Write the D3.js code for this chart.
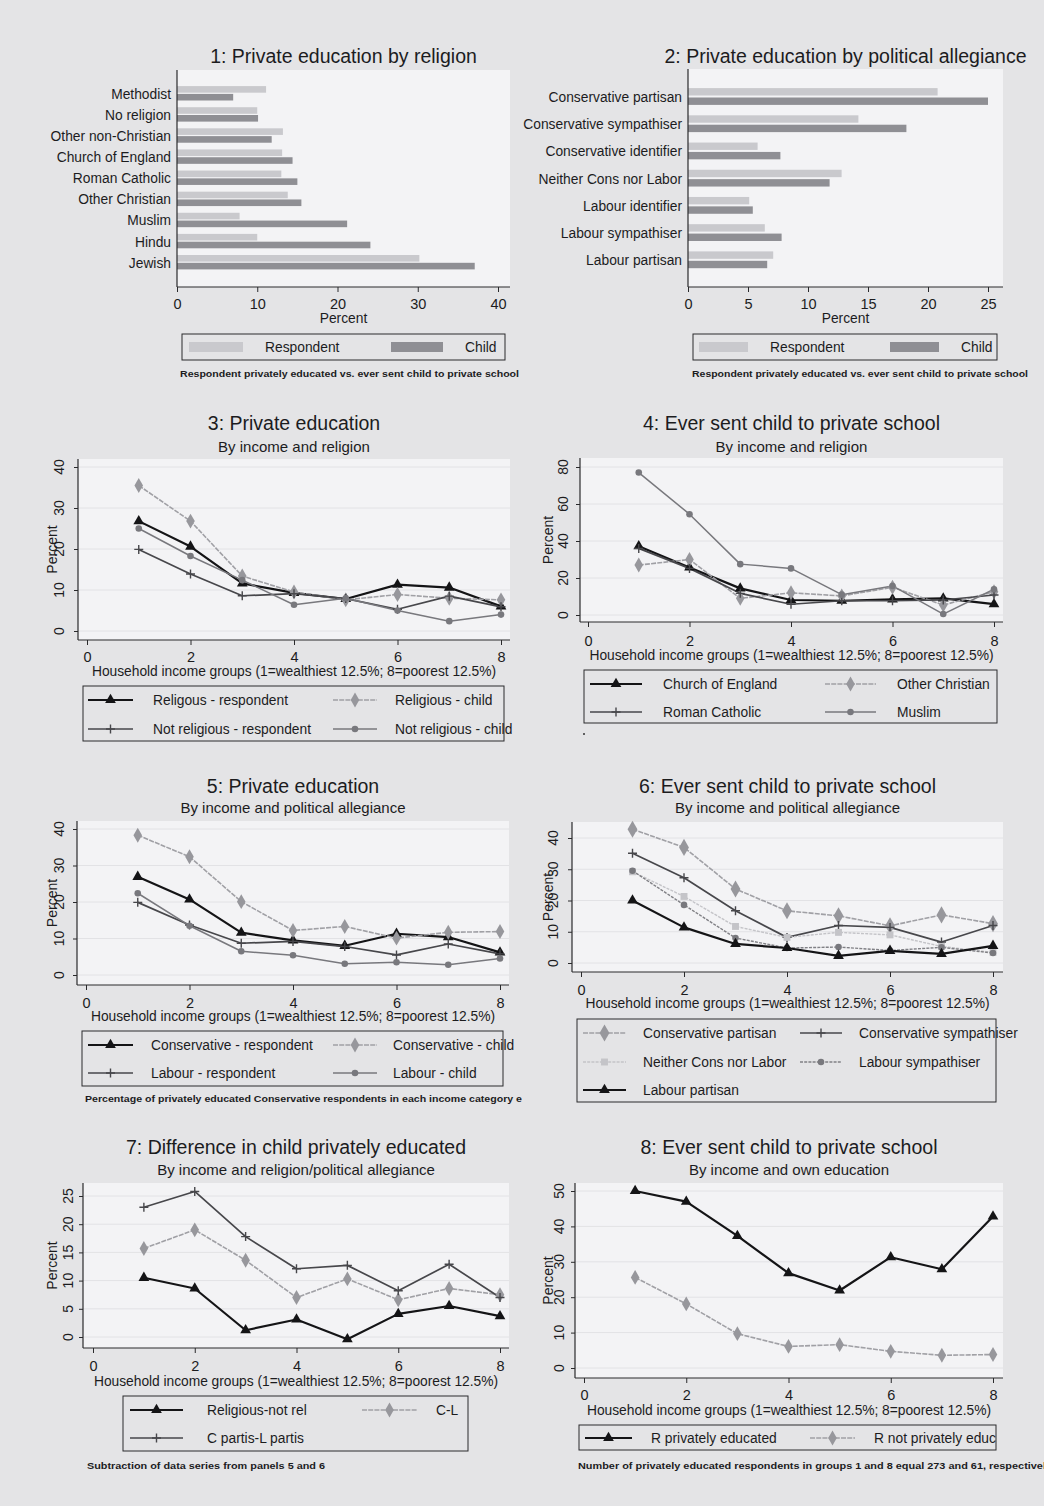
<!DOCTYPE html>
<html>
<head>
<meta charset="utf-8">
<script src="https://cdn.jsdelivr.net/npm/d3@7"></script>
<style>
  html, body { margin: 0; padding: 0; background: #e4e4e6; }
  svg { display: block; }
  text { font-family: "Liberation Sans", Arial, sans-serif; fill: #1c1c1e; }
</style>
</head>
<body>
<svg id="fig" width="1044" height="1506"></svg>
<script>
// ---------- Panel 1: private education by religion ----------
const religionCats = ["Methodist", "No religion", "Other non-Christian", "Church of England",
  "Roman Catholic", "Other Christian", "Muslim", "Hindu", "Jewish"];
const religionRespondent = [11.1, 10.0, 13.2, 13.1, 13.0, 13.8, 7.8, 10.0, 30.2];
const religionChild = [7.0, 10.1, 11.8, 14.4, 15.0, 15.5, 21.2, 24.1, 37.1];
const religionTicks = [0, 10, 20, 30, 40];

// ---------- Panel 2: private education by political allegiance ----------
const partyCats = ["Conservative partisan", "Conservative sympathiser", "Conservative identifier",
  "Neither Cons nor Labor", "Labour identifier", "Labour sympathiser", "Labour partisan"];
const partyRespondent = [20.8, 14.2, 5.8, 12.8, 5.1, 6.4, 7.1];
const partyChild = [25.0, 18.2, 7.7, 11.8, 5.4, 7.8, 6.6];
const partyTicks = [0, 5, 10, 15, 20, 25];

// ---------- Income groups (1 = wealthiest, 8 = poorest) ----------
const incomeGroups = [1, 2, 3, 4, 5, 6, 7, 8];
const incomeTicks = [0, 2, 4, 6, 8];

// Panel 3
const relRespondent = [26.8, 20.6, 11.6, 9.3, 7.8, 11.3, 10.6, 6.0];
const relChild = [35.5, 26.8, 13.4, 9.5, 7.6, 8.9, 8.0, 7.6];
const notRelRespondent = [19.9, 13.9, 8.6, 9.1, 7.9, 5.3, 8.5, 5.9];
const notRelChild = [25.0, 18.3, 12.4, 6.4, 8.0, 5.0, 2.4, 4.0];

// Panel 4
const coeChild = [37.2, 25.7, 14.4, 8.1, 7.7, 8.5, 9.0, 5.9];
const otherChristianChild = [27.0, 30.0, 9.0, 12.0, 10.3, 15.0, 5.4, 12.6];
const romanCatholicChild = [36.0, 25.2, 11.7, 5.8, 7.7, 7.7, 8.1, 10.8];
const muslimChild = [77.0, 54.5, 27.5, 25.2, 11.0, 15.7, 0.5, 13.9];

// Panel 5
const conRespondent = [26.9, 20.7, 11.6, 9.5, 8.0, 11.3, 10.4, 6.2];
const conChild = [38.3, 32.4, 20.1, 12.2, 13.3, 10.1, 11.7, 11.9];
const labRespondent = [19.9, 13.7, 8.7, 9.2, 7.8, 5.5, 8.5, 5.8];
const labChild = [22.4, 13.5, 6.5, 5.4, 3.1, 3.5, 2.8, 4.5];

// Panel 6
const conPartisan = [42.8, 37.0, 23.7, 16.7, 15.1, 11.9, 15.4, 12.6];
const conSympathiser = [35.1, 27.3, 16.7, 8.2, 12.0, 11.4, 6.7, 12.0];
const neitherConsLab = [29.2, 21.3, 11.7, 8.2, 9.8, 9.0, 5.3, 3.4];
const labSympathiser = [29.5, 18.6, 8.0, 4.8, 5.1, 4.0, 5.0, 3.2];
const labPartisan = [20.0, 11.4, 6.1, 4.8, 2.3, 3.9, 2.9, 5.5];

// Panel 7
const relMinusNotRel = [10.5, 8.6, 1.2, 3.1, -0.4, 4.1, 5.5, 3.7];
const conMinusLab = [15.7, 19.0, 13.6, 7.0, 10.3, 6.6, 8.6, 7.5];
const conPartisMinusLabPartis = [23.0, 25.8, 17.8, 12.1, 12.7, 8.2, 12.9, 7.0];

// Panel 8
const respPrivate = [50.0, 47.0, 37.3, 26.8, 21.9, 31.3, 27.9, 42.8];
const respNotPrivate = [25.6, 18.1, 9.7, 6.1, 6.6, 4.7, 3.6, 3.8];

// ---------- drawing ----------
const svg = d3.select("#fig");
const OUTER_BG = "#e4e4e6", PLOT_BG = "#f3f3f5", GRID = "#e2e2e5", AXIS = "#2a2a2c";
const TITLE_SIZE = 19.5, SUB_SIZE = 15, CAT_SIZE = 13.8;
svg.append("rect").attr("width", 1044).attr("height", 1506).attr("fill", OUTER_BG);

const defs = svg.append("defs");
defs.append("clipPath").attr("id", "leftCol").append("rect")
  .attr("x", 0).attr("y", 0).attr("width", 522).attr("height", 1506);

const STYLES = {
  triangle: { stroke: "#141416", width: 2.2, dash: null, sym: "triangle", fill: "#141416", size: 50 },
  diamond:  { stroke: "#a0a0a5", width: 1.6, dash: "5,1.2", sym: "diamond", fill: "#97979c", size: 64 },
  plus:     { stroke: "#47474b", width: 1.7, dash: null, sym: "plus", fill: "#47474b", size: 4.5 },
  circle:   { stroke: "#78787d", width: 1.5, dash: null, sym: "circle", fill: "#78787d", size: 34 },
  circleDot:{ stroke: "#808085", width: 1.4, dash: "3,1.2", sym: "circle", fill: "#78787d", size: 34 },
  square:   { stroke: "#c4c4c8", width: 1.4, dash: "3,1.2", sym: "square", fill: "#c4c4c8", size: 48 },
  bigDiamond: { stroke: "#a0a0a5", width: 1.6, dash: "5,1.2", sym: "diamond", fill: "#97979c", size: 84 }
};

function drawMarker(g, st, cx, cy) {
  if (st.sym === "plus") {
    const s = st.size;
    g.append("path").attr("d", `M${cx - s},${cy}H${cx + s}M${cx},${cy - s}V${cy + s}`)
      .attr("stroke", st.fill).attr("stroke-width", 1.4).attr("fill", "none");
    return;
  }
  const type = { triangle: d3.symbolTriangle, diamond: d3.symbolDiamond,
    circle: d3.symbolCircle, square: d3.symbolSquare }[st.sym];
  g.append("path").attr("d", d3.symbol().type(type).size(st.size)())
    .attr("transform", `translate(${cx},${cy})`).attr("fill", st.fill);
}

function textAt(g, x, y, str, size, anchor, extra) {
  const t = g.append("text").attr("x", x).attr("y", y).attr("font-size", size)
    .attr("text-anchor", anchor || "start").attr("dominant-baseline", "central").text(str);
  if (extra) extra(t);
  return t;
}

function barPanel(o) {
  const g = svg.append("g");
  const x = d3.scaleLinear().domain([0, d3.max(o.ticks)]).range([o.box.l, o.xMaxPx]);
  const y = d3.scalePoint().domain(o.cats).range(o.catRange);

  g.append("rect").attr("x", o.box.l).attr("y", o.box.t)
    .attr("width", o.box.r - o.box.l).attr("height", o.box.b - o.box.t).attr("fill", PLOT_BG);

  g.selectAll("rect.resp").data(o.cats).join("rect").attr("class", "resp")
    .attr("x", x(0)).attr("y", d => y(d) - o.gap / 2 - o.bh)
    .attr("width", (d, i) => x(o.resp[i]) - x(0)).attr("height", o.bh)
    .attr("fill", "#c9c9cd");
  g.selectAll("rect.child").data(o.cats).join("rect").attr("class", "child")
    .attr("x", x(0)).attr("y", d => y(d) + o.gap / 2)
    .attr("width", (d, i) => x(o.child[i]) - x(0)).attr("height", o.bh)
    .attr("fill", "#8f8f94");

  g.selectAll("text.cat").data(o.cats).join("text").attr("class", "cat")
    .attr("x", o.box.l - 6).attr("y", d => y(d) + 1).attr("text-anchor", "end")
    .attr("dominant-baseline", "central").attr("font-size", CAT_SIZE).text(d => d);

  g.append("line").attr("x1", o.box.l).attr("x2", o.box.l).attr("y1", o.box.t).attr("y2", o.box.b)
    .attr("stroke", AXIS).attr("stroke-width", 1.2);
  g.append("line").attr("x1", o.box.l).attr("x2", o.box.r).attr("y1", o.box.b).attr("y2", o.box.b)
    .attr("stroke", AXIS).attr("stroke-width", 1.2);

  const ax = g.append("g").attr("transform", `translate(0,${o.box.b})`)
    .call(d3.axisBottom(x).tickValues(o.ticks).tickSize(5).tickFormat(d3.format("d")));
  ax.select(".domain").remove();
  ax.selectAll(".tick line").attr("stroke", AXIS);
  ax.selectAll(".tick text").attr("y", 17).attr("dy", "0.35em").attr("font-size", 14.5)
    .attr("font-family", "Liberation Sans, Arial, sans-serif").attr("fill", "#1c1c1e");

  textAt(g, (o.box.l + o.box.r) / 2, o.box.b + 31, "Percent", 13.8, "middle");
  g.append("text").attr("x", (o.box.l + o.box.r) / 2).attr("y", o.titleY)
    .attr("text-anchor", "middle").attr("font-size", TITLE_SIZE).text(o.title);

  // legend
  const L = o.legend;
  g.append("rect").attr("x", L.box[0]).attr("y", L.box[1])
    .attr("width", L.box[2] - L.box[0]).attr("height", L.box[3] - L.box[1])
    .attr("fill", OUTER_BG).attr("stroke", AXIS).attr("stroke-width", 1);
  const cy = (L.box[1] + L.box[3]) / 2;
  g.append("rect").attr("x", L.sw1[0]).attr("y", cy - 5).attr("width", L.sw1[1] - L.sw1[0])
    .attr("height", 10).attr("fill", "#c9c9cd");
  textAt(g, L.t1, cy, "Respondent", 13.8);
  g.append("rect").attr("x", L.sw2[0]).attr("y", cy - 5).attr("width", L.sw2[1] - L.sw2[0])
    .attr("height", 10).attr("fill", "#8f8f94");
  textAt(g, L.t2, cy, "Child", 13.8);

  textAt(g, o.note[0], o.note[1], "Respondent privately educated vs. ever sent child to private school", 9, "start",
    t => t.attr("font-weight", "bold").attr("textLength", o.note[2]).attr("lengthAdjust", "spacingAndGlyphs"));
}

barPanel({
  cats: religionCats, resp: religionRespondent, child: religionChild, ticks: religionTicks,
  box: { l: 177, t: 70, r: 510, b: 287 }, xMaxPx: 498, catRange: [93.3, 262.2], bh: 6.6, gap: 1.2,
  title: "1: Private education by religion", titleY: 63,
  legend: { box: [182, 334, 505, 360], sw1: [189, 243], t1: 265, sw2: [391, 443], t2: 465 },
  note: [180, 374, 339]
});

barPanel({
  cats: partyCats, resp: partyRespondent, child: partyChild, ticks: partyTicks,
  box: { l: 688, t: 69, r: 1003, b: 287 }, xMaxPx: 988, catRange: [96.5, 259.8], bh: 7.4, gap: 2,
  title: "2: Private education by political allegiance", titleY: 63,
  legend: { box: [693, 334, 997, 360], sw1: [699, 748], t1: 770, sw2: [890, 939], t2: 961 },
  note: [692, 374, 336]
});

function linePanel(o) {
  const g = svg.append("g");
  if (o.clip) g.attr("clip-path", "url(#" + o.clip + ")");
  const x = d3.scaleLinear().domain([0, 8]).range(o.xr);
  const y = d3.scaleLinear().domain([0, d3.max(o.yTicks)]).range(o.yr);
  const B = o.box;

  g.append("rect").attr("x", B.l).attr("y", B.t).attr("width", B.r - B.l).attr("height", B.b - B.t)
    .attr("fill", PLOT_BG);
  g.selectAll("line.grid").data(o.yTicks).join("line").attr("class", "grid")
    .attr("x1", B.l).attr("x2", B.r).attr("y1", d => y(d)).attr("y2", d => y(d))
    .attr("stroke", GRID).attr("stroke-width", 1);

  // series
  const line = d3.line().x((d, i) => x(incomeGroups[i])).y(d => y(d));
  o.series.forEach(s => {
    const st = STYLES[s.style];
    g.append("path").attr("d", line(s.values)).attr("fill", "none")
      .attr("stroke", st.stroke).attr("stroke-width", st.width)
      .attr("stroke-dasharray", st.dash).attr("stroke-linejoin", "round");
  });
  o.series.forEach(s => {
    const st = STYLES[s.style];
    s.values.forEach((v, i) => drawMarker(g, st, x(incomeGroups[i]), y(v)));
  });

  // axes
  g.append("line").attr("x1", B.l).attr("x2", B.l).attr("y1", B.t).attr("y2", B.b)
    .attr("stroke", AXIS).attr("stroke-width", 1.2);
  g.append("line").attr("x1", B.l).attr("x2", B.r).attr("y1", B.b).attr("y2", B.b)
    .attr("stroke", AXIS).attr("stroke-width", 1.2);

  const ax = g.append("g").attr("transform", `translate(0,${B.b})`)
    .call(d3.axisBottom(x).tickValues(incomeTicks).tickSize(5).tickFormat(d3.format("d")));
  ax.select(".domain").remove();
  ax.selectAll(".tick line").attr("stroke", AXIS);
  ax.selectAll(".tick text").attr("y", o.xTickY - B.b).attr("dy", "0.35em").attr("font-size", 14.5)
    .attr("font-family", "Liberation Sans, Arial, sans-serif").attr("fill", "#1c1c1e");

  const ay = g.append("g").attr("transform", `translate(${B.l},0)`)
    .call(d3.axisLeft(y).tickValues(o.yTicks).tickSize(4).tickFormat(d3.format("d")));
  ay.select(".domain").remove();
  ay.selectAll(".tick line").attr("stroke", AXIS);
  ay.selectAll(".tick text").remove();
  o.yTicks.forEach(v => {
    g.append("text").attr("x", o.ylabX).attr("y", y(v)).attr("font-size", 14)
      .attr("text-anchor", "middle").attr("dominant-baseline", "central")
      .attr("transform", `rotate(-90,${o.ylabX},${y(v)})`).text(v);
  });
  const midY = (B.t + B.b) / 2;
  g.append("text").attr("x", o.pctX).attr("y", midY).attr("font-size", 14)
    .attr("text-anchor", "middle").attr("dominant-baseline", "central")
    .attr("transform", `rotate(-90,${o.pctX},${midY})`).text("Percent");

  textAt(g, (B.l + B.r) / 2, o.xTitleY, "Household income groups (1=wealthiest 12.5%; 8=poorest 12.5%)", 13.8, "middle",
    t => t.attr("textLength", 404).attr("lengthAdjust", "spacing"));

  const cx = (B.l + B.r) / 2;
  g.append("text").attr("x", cx).attr("y", o.titleY).attr("text-anchor", "middle")
    .attr("font-size", TITLE_SIZE).text(o.title);
  g.append("text").attr("x", cx).attr("y", o.subY).attr("text-anchor", "middle")
    .attr("font-size", SUB_SIZE).text(o.subtitle);

  // legend
  const L = o.legend;
  g.append("rect").attr("x", L.box[0]).attr("y", L.box[1])
    .attr("width", L.box[2] - L.box[0]).attr("height", L.box[3] - L.box[1])
    .attr("fill", OUTER_BG).attr("stroke", AXIS).attr("stroke-width", 1);
  o.series.forEach((s, k) => {
    const row = Math.floor(k / 2), col = k % 2;
    const c = L.cols[col], yy = L.rows[row];
    const st = STYLES[s.style];
    g.append("line").attr("x1", c[0]).attr("x2", c[1]).attr("y1", yy).attr("y2", yy)
      .attr("stroke", st.stroke).attr("stroke-width", st.width).attr("stroke-dasharray", st.dash);
    drawMarker(g, st, (c[0] + c[1]) / 2, yy);
    textAt(g, c[2], yy, s.label, 13.8);
  });

  if (o.note) {
    textAt(g, o.note[0], o.note[1], o.note[2], 9, "start",
      t => t.attr("font-weight", "bold").attr("textLength", o.note[3]).attr("lengthAdjust", "spacingAndGlyphs"));
  }
  return g;
}

linePanel({
  box: { l: 78, t: 459, r: 510, b: 640 }, xr: [87, 501], yr: [631, 467], yTicks: [0, 10, 20, 30, 40],
  ylabX: 59, pctX: 52, title: "3: Private education", subtitle: "By income and religion",
  titleY: 430, subY: 452, xTickY: 657, xTitleY: 671,
  series: [
    { label: "Religous - respondent", values: relRespondent, style: "triangle" },
    { label: "Religious - child", values: relChild, style: "diamond" },
    { label: "Not religious - respondent", values: notRelRespondent, style: "plus" },
    { label: "Not religious - child", values: notRelChild, style: "circle" }
  ],
  legend: { box: [83, 686, 504, 741], rows: [700, 729], cols: [[88, 133, 153], [333, 377, 395]] }
});

const p4 = linePanel({
  box: { l: 580, t: 458, r: 1003, b: 622 }, xr: [588, 994], yr: [615, 467], yTicks: [0, 20, 40, 60, 80],
  ylabX: 563, pctX: 548, title: "4: Ever sent child to private school", subtitle: "By income and religion",
  titleY: 430, subY: 452, xTickY: 641, xTitleY: 655,
  series: [
    { label: "Church of England", values: coeChild, style: "triangle" },
    { label: "Other Christian", values: otherChristianChild, style: "diamond" },
    { label: "Roman Catholic", values: romanCatholicChild, style: "plus" },
    { label: "Muslim", values: muslimChild, style: "circle" }
  ],
  legend: { box: [584, 670, 997, 723], rows: [684, 712], cols: [[590, 642, 663], [825, 876, 897]] }
});
p4.append("circle").attr("cx", 584).attr("cy", 734).attr("r", 1).attr("fill", "#333");

linePanel({
  box: { l: 77, t: 821, r: 509, b: 985 }, xr: [86, 500], yr: [975, 829], yTicks: [0, 10, 20, 30, 40],
  ylabX: 59, pctX: 52, title: "5: Private education", subtitle: "By income and political allegiance",
  titleY: 793, subY: 813, xTickY: 1003, xTitleY: 1016, clip: "leftCol",
  series: [
    { label: "Conservative - respondent", values: conRespondent, style: "triangle" },
    { label: "Conservative - child", values: conChild, style: "diamond" },
    { label: "Labour - respondent", values: labRespondent, style: "plus" },
    { label: "Labour - child", values: labChild, style: "circle" }
  ],
  legend: { box: [82, 1031, 503, 1086], rows: [1045, 1073], cols: [[88, 133, 151], [333, 377, 393]] },
  note: [85, 1099, "Percentage of privately educated Conservative respondents in each income category e", 437]
});

linePanel({
  box: { l: 572, t: 822, r: 1003, b: 972 }, xr: [581, 993], yr: [963, 838], yTicks: [0, 10, 20, 30, 40],
  ylabX: 553, pctX: 548, title: "6: Ever sent child to private school", subtitle: "By income and political allegiance",
  titleY: 793, subY: 813, xTickY: 990, xTitleY: 1003,
  series: [
    { label: "Conservative partisan", values: conPartisan, style: "bigDiamond" },
    { label: "Conservative sympathiser", values: conSympathiser, style: "plus" },
    { label: "Neither Cons nor Labor", values: neitherConsLab, style: "square" },
    { label: "Labour sympathiser", values: labSympathiser, style: "circleDot" },
    { label: "Labour partisan", values: labPartisan, style: "triangle" }
  ],
  legend: { box: [577, 1019, 996, 1102], rows: [1033, 1062, 1090], cols: [[583, 626, 643], [800, 842, 859]] }
});

linePanel({
  box: { l: 83, t: 1183, r: 509, b: 1348 }, xr: [93, 500], yr: [1337, 1196], yTicks: [0, 5, 10, 15, 20, 25],
  ylabX: 68, pctX: 52, title: "7: Difference in child privately educated",
  subtitle: "By income and religion/political allegiance",
  titleY: 1154, subY: 1175, xTickY: 1366, xTitleY: 1381,
  series: [
    { label: "Religious-not rel", values: relMinusNotRel, style: "triangle" },
    { label: "C-L", values: conMinusLab, style: "diamond" },
    { label: "C partis-L partis", values: conPartisMinusLabPartis, style: "plus" }
  ],
  legend: { box: [123, 1396, 468, 1451], rows: [1410, 1438], cols: [[130, 183, 207], [362, 417, 436]] },
  note: [87, 1466, "Subtraction of data series from panels 5 and 6", 238]
});

linePanel({
  box: { l: 575, t: 1183, r: 1003, b: 1378 }, xr: [584, 993], yr: [1368, 1191], yTicks: [0, 10, 20, 30, 40, 50],
  ylabX: 559, pctX: 548, title: "8: Ever sent child to private school", subtitle: "By income and own education",
  titleY: 1154, subY: 1175, xTickY: 1395, xTitleY: 1410,
  series: [
    { label: "R privately educated", values: respPrivate, style: "triangle" },
    { label: "R not privately educ", values: respNotPrivate, style: "diamond" }
  ],
  legend: { box: [579, 1425, 996, 1450], rows: [1438], cols: [[585, 632, 651], [810, 855, 874]] },
  note: [578, 1466, "Number of privately educated respondents in groups 1 and 8 equal 273 and 61, respectively", 474]
});
</script>
</body>
</html>
